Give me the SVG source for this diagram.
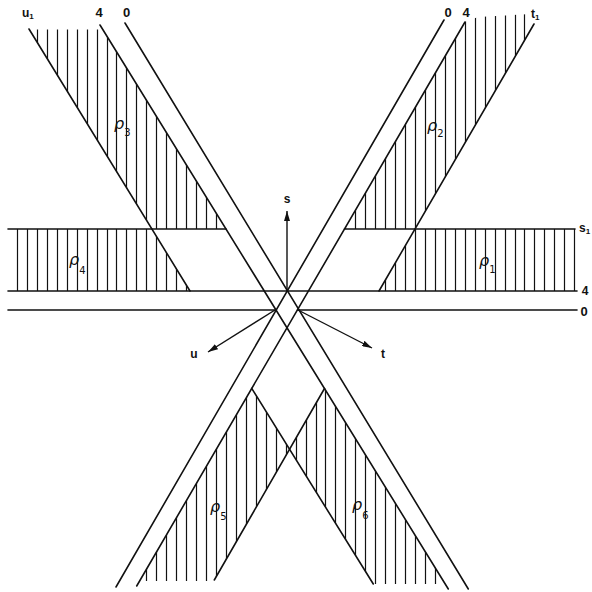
<svg xmlns="http://www.w3.org/2000/svg" width="592" height="592" viewBox="0 0 592 592">
<style>
.ln{stroke:#111;stroke-width:1.6;fill:none;stroke-linecap:round}
.h{stroke:#111;stroke-width:1.2;fill:none}
.ar{stroke:#111;stroke-width:1.4;fill:none}
.lab{font-family:"Liberation Sans",Arial,sans-serif;font-weight:bold;font-size:13px;fill:#111}
.sm{font-size:12px}
.sb{font-size:8px}
.rho{font-family:"DejaVu Sans",sans-serif;font-size:16px;font-style:italic;fill:#111}
.rs{font-size:10px;font-style:normal}
</style>
<defs>
<marker id="ah" viewBox="0 0 10 6" refX="10" refY="3" markerWidth="10" markerHeight="6" orient="auto" markerUnits="userSpaceOnUse"><path d="M0,0L10,3L0,6Z" fill="#111"/></marker>
<path id="hatch" d="M17.5 0V592M27.5 0V592M37.5 0V592M47.5 0V592M57.5 0V592M67.5 0V592M77.5 0V592M87.5 0V592M97.5 0V592M107.5 0V592M116.5 0V592M126.5 0V592M136.5 0V592M146.5 0V592M156.5 0V592M166.5 0V592M176.5 0V592M186.5 0V592M196.5 0V592M206.5 0V592M216.5 0V592M226.5 0V592M236.5 0V592M246.5 0V592M256.5 0V592M266.5 0V592M276.5 0V592M286.5 0V592M296.5 0V592M306.5 0V592M316.5 0V592M325.5 0V592M335.5 0V592M345.5 0V592M355.5 0V592M365.5 0V592M375.5 0V592M385.5 0V592M395.5 0V592M405.5 0V592M415.5 0V592M425.5 0V592M435.5 0V592M445.5 0V592M455.5 0V592M465.5 0V592M475.5 0V592M485.5 0V592M495.5 0V592M505.5 0V592M515.5 0V592M524.5 0V592M534.5 0V592M544.5 0V592M554.5 0V592M564.5 0V592M574.5 0V592"/>
<clipPath id="c1"><polygon points="415,229 576,229 576,291 379,291"/></clipPath>
<clipPath id="c2"><polygon points="465,22 478,17 531,14 531,29.2 415,229 344.5,229"/></clipPath>
<clipPath id="c3"><polygon points="29,29.5 102.8,29.5 226,229 151.9,229"/></clipPath>
<clipPath id="c4"><polygon points="8,229 151.9,229 190,291 8,291"/></clipPath>
<clipPath id="c5"><polygon points="251.7,388.4 289.5,449.2 213.7,581 139.6,581"/></clipPath>
<clipPath id="c6"><polygon points="324.5,388.5 289.5,449.2 373.3,584 445.2,584"/></clipPath>
</defs>

<g id="hatching" class="h">
<use href="#hatch" clip-path="url(#c1)"/>
<use href="#hatch" clip-path="url(#c2)"/>
<use href="#hatch" clip-path="url(#c3)"/>
<use href="#hatch" clip-path="url(#c4)"/>
<use href="#hatch" clip-path="url(#c5)"/>
<use href="#hatch" clip-path="url(#c6)"/>
</g>

<g id="lines" class="ln">
<line id="s1-left" x1="8" y1="229" x2="226" y2="229"/>
<line id="s1-right" x1="344.5" y1="229" x2="575" y2="229"/>
<line id="s4" x1="8" y1="291" x2="577" y2="291"/>
<line id="s0-left" x1="8" y1="310" x2="276" y2="310"/>
<line id="s0-right" x1="297.5" y1="310" x2="577" y2="310"/>
<line id="u1" x1="29" y1="29" x2="190" y2="291"/>
<line id="u4" x1="100" y1="25" x2="448.3" y2="589"/>
<line id="u0" x1="125" y1="23" x2="468.3" y2="589"/>
<line id="t1" x1="534" y1="24" x2="379" y2="291"/>
<line id="t4" x1="465" y1="22" x2="136.7" y2="586"/>
<line id="t0" x1="444" y1="20" x2="116" y2="587"/>
<line id="u2" x1="251.7" y1="388.4" x2="373.3" y2="584"/>
<line id="t2" x1="324.5" y1="388.5" x2="214.3" y2="580"/>
</g>

<g id="arrows" class="ar">
<line x1="287" y1="291" x2="287" y2="211" marker-end="url(#ah)"/>
<line x1="275" y1="310" x2="208" y2="352" marker-end="url(#ah)"/>
<line x1="298" y1="310" x2="372" y2="348" marker-end="url(#ah)"/>
</g>

<g id="labels" class="lab">
<text x="22" y="17" class="sm">u<tspan class="sb" dy="2">1</tspan></text>
<text x="99" y="17" text-anchor="middle">4</text>
<text x="126.5" y="17" text-anchor="middle">0</text>
<text x="448" y="17" text-anchor="middle">0</text>
<text x="466" y="17" text-anchor="middle">4</text>
<text x="531" y="18" class="sm">t<tspan class="sb" dy="2">1</tspan></text>
<text x="579" y="232" class="sm">s<tspan class="sb" dy="2">1</tspan></text>
<text x="585" y="295" text-anchor="middle" class="sm">4</text>
<text x="584" y="316" text-anchor="middle">0</text>
<text x="287" y="203" text-anchor="middle" class="sm">s</text>
<text x="194" y="358" text-anchor="middle" class="sm">u</text>
<text x="383" y="358" text-anchor="middle" class="sm">t</text>
</g>

<g id="regions" class="rho">
<text id="rho3" x="114" y="129">ρ<tspan class="rs" dy="7">3</tspan></text>
<text id="rho2" x="427" y="131">ρ<tspan class="rs" dy="6">2</tspan></text>
<text id="rho4" x="69" y="265">ρ<tspan class="rs" dy="9">4</tspan></text>
<text id="rho1" x="479" y="266">ρ<tspan class="rs" dy="7">1</tspan></text>
<text id="rho5" x="210" y="512">ρ<tspan class="rs" dy="8">5</tspan></text>
<text id="rho6" x="352" y="510">ρ<tspan class="rs" dy="9">6</tspan></text>
</g>
</svg>
